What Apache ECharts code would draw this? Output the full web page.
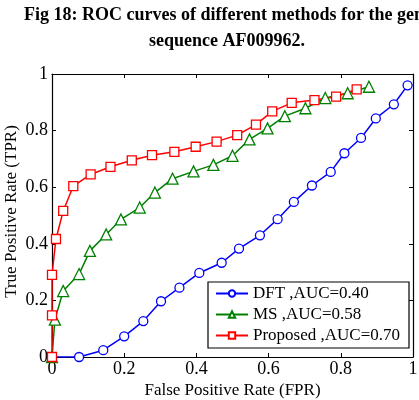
<!doctype html>
<html>
<head>
<meta charset="UTF-8">
<title>ROC curves</title>
<script src="https://cdn.jsdelivr.net/npm/echarts@6/dist/echarts.min.js"></script>
<style>
html,body{margin:0;padding:0;background:#fff;}
#chart{width:419px;height:400px;}
</style>
</head>
<body>
<div id="chart"></div>
<script type="text/javascript">
// ROC points: [FPR, TPR]
var dftPoints = [[0,0],[0.075,0],[0.142,0.024],[0.2,0.073],[0.253,0.127],[0.302,0.197],[0.353,0.245],
	[0.408,0.297],[0.47,0.333],[0.518,0.383],[0.576,0.43],[0.625,0.487],[0.67,0.548],[0.72,0.606],
	[0.772,0.654],[0.81,0.72],[0.856,0.774],[0.897,0.843],[0.947,0.893],[0.985,0.96]];
var msPoints = [[0,0],[0.008,0.132],[0.031,0.233],[0.075,0.293],[0.105,0.375],[0.15,0.433],[0.191,0.486],
	[0.243,0.528],[0.285,0.581],[0.334,0.63],[0.392,0.656],[0.447,0.679],[0.5,0.711],[0.547,0.769],
	[0.597,0.808],[0.645,0.851],[0.702,0.879],[0.757,0.915],[0.819,0.932],[0.878,0.955]];
var proposedPoints = [[0,0],[0,0.147],[0,0.29],[0.011,0.417],[0.031,0.516],[0.059,0.604],[0.107,0.645],
	[0.162,0.672],[0.221,0.695],[0.277,0.713],[0.339,0.725],[0.398,0.743],[0.456,0.761],[0.513,0.784],
	[0.565,0.821],[0.61,0.868],[0.664,0.898],[0.727,0.908],[0.787,0.92],[0.844,0.946]];
var seriesNames = ['DFT ,AUC=0.40', 'MS ,AUC=0.58', 'Proposed ,AUC=0.70'];
var tickLabels = ['0', '0.2', '0.4', '0.6', '0.8', '1'];

var serif = 'Liberation Serif';
var chart = echarts.init(document.getElementById('chart'));

function mkSeries(name, data, color, symbol) {
	return {
		name: name,
		type: 'line',
		data: data,
		symbol: symbol,
		symbolSize: symbol == 'triangle' ? 11 : 9,
		showAllSymbol: true,
		lineStyle: { color: color, width: 1.5 },
		itemStyle: { color: '#fff', borderColor: color, borderWidth: 1.3 },
		emphasis: { disabled: true },
		animation: false
	};
}

function tickFmt(v) {
	var s = String(Math.round(v * 10) / 10);
	return tickLabels.indexOf(s) >= 0 ? s : '';
}

var axisBase = {
	type: 'value',
	min: 0, max: 1, interval: 0.2,
	splitLine: { show: false },
	axisLine: { show: true, onZero: false, lineStyle: { color: '#000', width: 1.2 } },
	axisTick: { show: true, inside: true, length: 4, lineStyle: { color: '#000' } }
};

var option = {
	backgroundColor: '#fff',
	animation: false,
	title: [{
		text: 'Fig 18: ROC curves of different methods for the gene',
		left: 24, top: 6, padding: 0,
		textStyle: { fontFamily: serif, fontWeight: 'bold', fontSize: 18, color: '#000' }
	}, {
		text: 'sequence AF009962.',
		left: 149, top: 32, padding: 0,
		textStyle: { fontFamily: serif, fontWeight: 'bold', fontSize: 18, color: '#000' }
	}],
	grid: { left: 52, right: 6, top: 74, bottom: 43, outerBoundsMode: 'none', containLabel: false },
	legend: {
		orient: 'vertical',
		left: 208, top: 282,
		padding: [3, 9, 4, 7],
		itemGap: 4,
		itemWidth: 32,
		itemHeight: 8,
		backgroundColor: '#fff',
		borderColor: '#000',
		borderWidth: 1.2,
		textStyle: { fontFamily: serif, fontSize: 17, color: '#000' },
		data: seriesNames
	},
	xAxis: [
		Object.assign({}, axisBase, {
			position: 'bottom',
			name: 'False Positive Rate (FPR)',
			nameLocation: 'middle', nameGap: 25, nameMoveOverlap: false,
			nameTextStyle: { fontFamily: serif, fontSize: 17, color: '#000' },
			axisLabel: { fontFamily: serif, fontSize: 18, color: '#000', margin: 3, formatter: tickFmt }
		}),
		Object.assign({}, axisBase, { position: 'top', axisLabel: { show: false } })
	],
	yAxis: [
		Object.assign({}, axisBase, {
			position: 'left',
			name: 'True Positive Rate (TPR)',
			nameLocation: 'middle', nameGap: 32, nameMoveOverlap: false,
			nameTextStyle: { fontFamily: serif, fontSize: 17, color: '#000', padding: [0, 0, 0, 8] },
			axisLabel: { fontFamily: serif, fontSize: 18, color: '#000', margin: 4, formatter: tickFmt }
		}),
		Object.assign({}, axisBase, { position: 'right', axisLabel: { show: false } })
	],
	series: [
		mkSeries(seriesNames[0], dftPoints, '#0000ff', 'circle'),
		mkSeries(seriesNames[1], msPoints, '#008000', 'triangle'),
		mkSeries(seriesNames[2], proposedPoints, '#ff0000', 'rect')
	]
};
chart.setOption(option);
</script>
</body>
</html>
